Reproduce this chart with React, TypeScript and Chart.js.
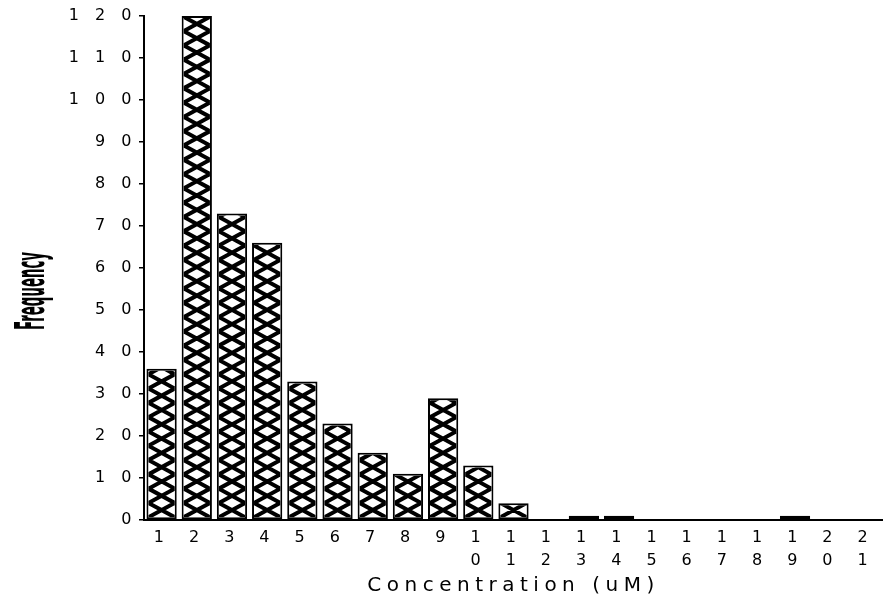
import React, { useEffect, useRef } from 'react';
import { Chart, registerables } from 'chart.js';

Chart.register(...registerables);

const categories = ['1', '2', '3', '4', '5', '6', '7', '8', '9', '10', '11', '12', '13', '14', '15', '16', '17', '18', '19', '20', '21'];
const frequencies = [36, 120, 73, 66, 33, 23, 16, 11, 29, 13, 4, 0, 1, 1, 0, 0, 0, 0, 1, 0, 0];
const yTicks = [0, 10, 20, 30, 40, 50, 60, 70, 80, 90, 100, 110, 120];
const xTitle = 'Concentration (uM)';
const yTitle = 'Frequency';

const FONT = '"DejaVu Sans", sans-serif';
const LS = '5.5px';

const spacingPlugin = {
  id: 'spacing',
  beforeLayout(chart: any) {
    chart.ctx.letterSpacing = LS;
  },
  beforeDraw(chart: any) {
    chart.ctx.letterSpacing = LS;
  },
};

const hatchPlugin = {
  id: 'hatch',
  afterDatasetsDraw(chart: any, _args: any, opts: any) {
    const ctx = chart.ctx;
    const meta = chart.getDatasetMeta(0);
    const bw = opts.border;
    const a = opts.period;
    meta.data.forEach((bar: any) => {
      const { x, y, base, width } = bar.getProps(['x', 'y', 'base', 'width'], true);
      const L = x - width / 2 + bw;
      const R = x + width / 2 - bw;
      const T = Math.min(y, base) + bw;
      const B = Math.max(y, base) - bw;
      const W = R - L;
      if (B - T <= 0 || W <= 0) return;
      ctx.save();
      ctx.beginPath();
      ctx.rect(L, T, W, B - T);
      ctx.clip();
      ctx.strokeStyle = '#000';
      ctx.lineWidth = opts.lineWidth;
      ctx.beginPath();
      for (let k = -2; B - k * a > T - 2 * a; k++) {
        const y0 = B - k * a;
        ctx.moveTo(L - W, y0 + a);
        ctx.lineTo(R + W, y0 - 2 * a);
        ctx.moveTo(R + W, y0 + a);
        ctx.lineTo(L - W, y0 - 2 * a);
      }
      ctx.stroke();
      ctx.restore();
    });
  },
};

const yTitlePlugin = {
  id: 'yTitleCondensed',
  afterDraw(chart: any, _args: any, opts: any) {
    const ctx = chart.ctx;
    ctx.save();
    ctx.letterSpacing = '0px';
    ctx.font = `bold ${opts.size}px ${FONT}`;
    ctx.fillStyle = '#000';
    const w = ctx.measureText(opts.text).width;
    ctx.translate(opts.x, opts.y);
    ctx.rotate(-Math.PI / 2);
    ctx.scale(opts.length / w, 1);
    ctx.textAlign = 'center';
    ctx.textBaseline = 'alphabetic';
    ctx.fillText(opts.text, 0, 0);
    ctx.restore();
  },
};

export default function App() {
  const ref = useRef<HTMLCanvasElement | null>(null);

  useEffect(() => {
    if (!ref.current) return;
    const chart = new Chart(ref.current, {
      type: 'bar',
      data: {
        labels: categories,
        datasets: [
          {
            data: frequencies,
            backgroundColor: '#ffffff',
            borderColor: '#000000',
            borderWidth: 2,
            borderSkipped: false,
            barPercentage: 0.86,
            categoryPercentage: 1,
          },
        ],
      },
      options: {
        animation: false,
        responsive: true,
        maintainAspectRatio: false,
        layout: { padding: { top: 16, left: 0, right: 0, bottom: 0 } },
        plugins: {
          legend: { display: false },
          tooltip: { enabled: false },
          hatch: { border: 2, period: 14.3, lineWidth: 4 },
          yTitleCondensed: { text: yTitle, x: 44, y: 291, size: 40, length: 78 },
        } as any,
        scales: {
          x: {
            type: 'category',
            offset: true,
            grid: { display: false, drawTicks: false },
            border: { display: true, color: '#000', width: 2 },
            ticks: {
              color: '#000',
              font: { family: FONT, size: 16, lineHeight: 1.4 },
              padding: 7,
              maxRotation: 0,
              autoSkip: false,
              callback: (_v: any, i: number) => categories[i].split(''),
            },
            title: {
              display: true,
              text: xTitle,
              color: '#000',
              font: { family: FONT, size: 20 },
              padding: { top: 0, bottom: 9 },
            },
            afterFit: (s: any) => {
              s.height = 87;
            },
          },
          y: {
            min: 0,
            max: 120,
            afterBuildTicks: (s: any) => {
              s.ticks = yTicks.map((v) => ({ value: v }));
            },
            ticks: {
              color: '#000',
              font: { family: FONT, size: 16 },
              padding: 2,
              callback: (v: any) => String(v).split('').join(' '),
            },
            grid: { drawOnChartArea: false, drawTicks: true, tickLength: 5, color: '#000', lineWidth: 1.5 },
            border: { display: true, color: '#000', width: 2 },
            afterFit: (s: any) => {
              s.width = 144;
            },
          },
        },
      } as any,
      plugins: [spacingPlugin, hatchPlugin, yTitlePlugin],
    });
    return () => chart.destroy();
  }, []);

  return (
    <div style={{ position: 'absolute', left: 0, top: 0, width: 883, height: 607, background: '#fff' }}>
      <canvas ref={ref} />
    </div>
  );
}
